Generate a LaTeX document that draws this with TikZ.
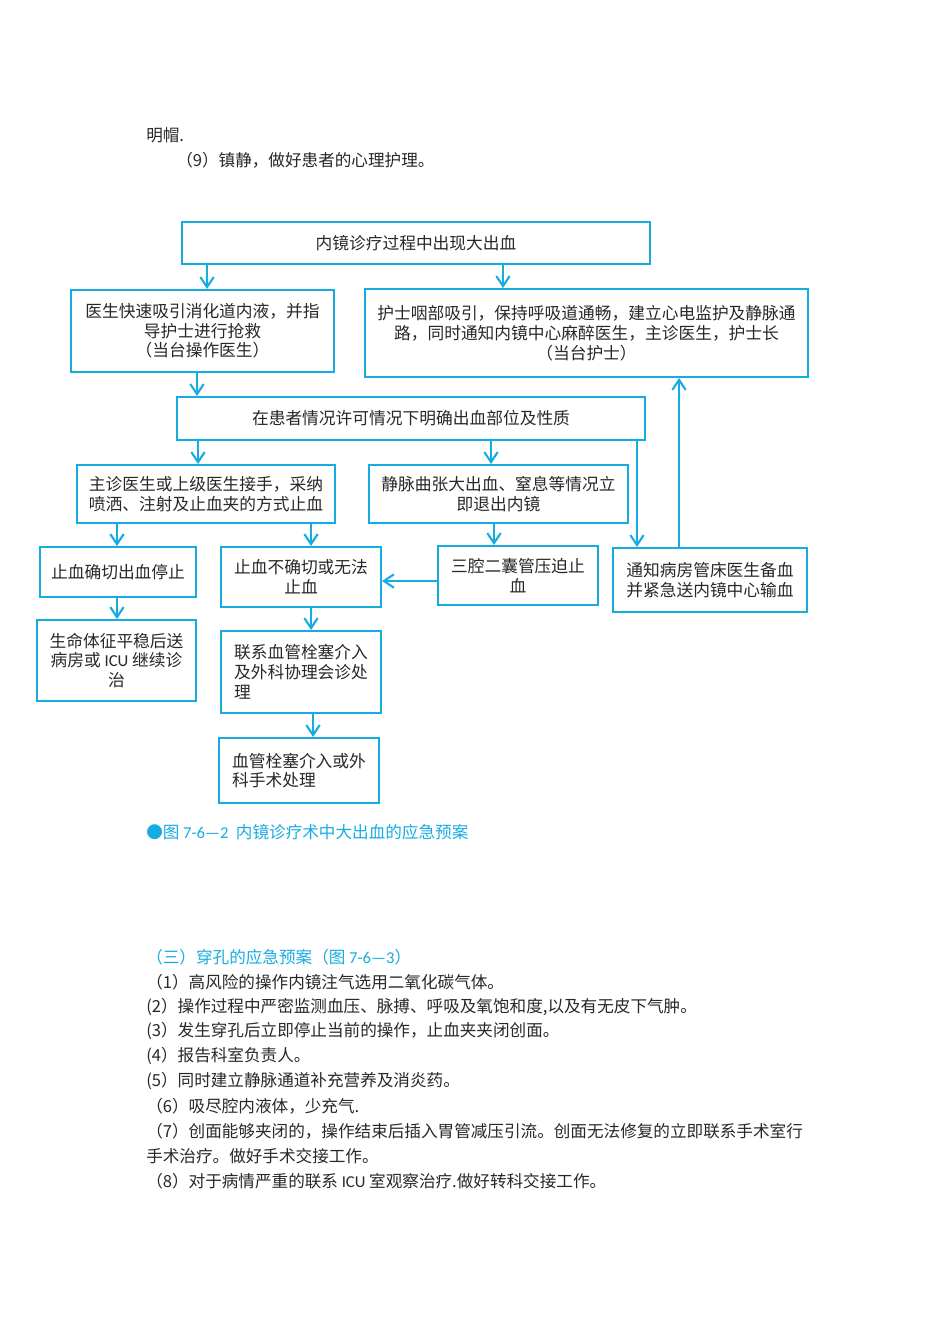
\documentclass[tikz,border=0pt]{standalone}
\usepackage{fontspec}
\setmainfont{Noto Sans CJK SC}
\newfontfamily\latin{Carlito}
\usepackage{xcolor}
\usetikzlibrary{positioning, arrows.meta, calc}

\definecolor{flowblue}{RGB}{22,172,226}
\definecolor{inkgray}{RGB}{40,40,40}
\newcommand{\flowfont}{\fontsize{12.55pt}{14.8pt}\selectfont}
\newcommand{\bodyfont}{\fontsize{12.45pt}{18pt}\selectfont}

\begin{document}
\begin{tikzpicture}[
  x=0.75pt, y=-0.75pt,
  every node/.style={font=\bodyfont, text=inkgray},
  arr/.style={-{Straight Barb[length=7.5pt, width=10pt, line width=1.6pt]}, line width=1pt, flowblue},
  box/.style={draw=flowblue, line width=1.5pt, align=center, inner sep=3pt,
              font=\flowfont, text=inkgray},
  para/.style={anchor=west, inner sep=0pt, font=\bodyfont},
  headline/.style={para, text=flowblue}
]
\useasboundingbox[fill=white] (0,0) rectangle (950,1344);

%% Text above the chart
\node[para] (capend) at (146,135) {明帽.};
\node[para] (step9) at (176,160) {（9）镇静，做好患者的心理护理。};

%% 1. Bleeding occurs
\node[box, minimum width=351pt, minimum height=31.5pt] (onset)
  at (416,243) {内镜诊疗过程中出现大出血};

%% 2a. Operating doctor
\node[box, minimum width=197.25pt, minimum height=61.5pt] (doctor)
  at (202.5,331) {医生快速吸引消化道内液，并指\\导护士进行抢救\\（当台操作医生）};

%% 2b. Nurse on duty
\node[box, minimum width=332.25pt, minimum height=66pt] (nurse)
  at (586.5,333) {护士咽部吸引，保持呼吸道通畅，建立心电监护及静脉通\\路，同时通知内镜中心麻醉医生，主诊医生，护士长\\（当台护士）};

%% 3. Locate the bleeding
\node[box, minimum width=351pt, minimum height=32.25pt] (locate)
  at (411,418.5) {在患者情况许可情况下明确出血部位及性质};

%% 4a. Chief doctor takes over
\node[box, minimum width=193.5pt, minimum height=43.5pt] (chief)
  at (206,494) {主诊医生或上级医生接手，采纳\\喷洒、注射及止血夹的方式止血};

%% 4b. Varices / asphyxia
\node[box, minimum width=194.25pt, minimum height=43.5pt] (varix)
  at (498.5,494) {静脉曲张大出血、窒息等情况立\\即退出内镜};

%% 5. Outcomes
\node[box, minimum width=117pt, minimum height=37.5pt] (stopped)
  at (118,572) {止血确切出血停止};
\node[box, minimum width=120pt, minimum height=45pt] (failed)
  at (301,577) {止血不确切或无法\\止血};
\node[box, minimum width=120pt, minimum height=44.25pt] (balloon)
  at (518,575.5) {三腔二囊管压迫止\\血};
\node[box, minimum width=145.5pt, minimum height=48pt] (blood)
  at (710,580) {通知病房管床医生备血\\并紧急送内镜中心输血};

%% 6. Follow-up
\node[box, minimum width=119.25pt, minimum height=60.75pt] (ward)
  at (116.5,660.5) {生命体征平稳后送\\病房或 {\latin ICU} 继续诊\\治};
\node[box, align=left, minimum width=120pt, minimum height=61.5pt] (consult)
  at (301,672) {联系血管栓塞介入\\及外科协理会诊处\\理};
\node[box, align=left, minimum width=120pt, minimum height=48.75pt] (surgery)
  at (299,770.5) {血管栓塞介入或外\\科手术处理};

%% Caption
\node[headline] (caption) at (146,832) {●图 {\latin 7-6—2}\ \ 内镜诊疗术中大出血的应急预案};

%% ---- Arrows ----
\draw[arr] (onset.south -| 207,0) -- (doctor.north -| 207,0);
\draw[arr] (onset.south -| 503,0) -- (nurse.north -| 503,0);
\draw[arr] (doctor.south -| 197,0) -- (locate.north -| 197,0);
\draw[arr] (locate.south -| 198,0) -- (chief.north -| 198,0);
\draw[arr] (locate.south -| 491,0) -- (varix.north -| 491,0);
\draw[arr] (locate.south -| 637,0) -- (blood.north -| 637,0);
\draw[arr] (blood.north -| 679,0) -- (nurse.south -| 679,0);
\draw[arr] (chief.south -| 117,0) -- (stopped.north -| 117,0);
\draw[arr] (chief.south -| 311,0) -- (failed.north -| 311,0);
\draw[arr] (varix.south -| 494,0) -- (balloon.north -| 494,0);
\draw[arr] (balloon.west |- 0,581) -- (failed.east |- 0,581);
\draw[arr] (stopped.south -| 117,0) -- (ward.north -| 117,0);
\draw[arr] (failed.south -| 311,0) -- (consult.north -| 311,0);
\draw[arr] (consult.south -| 313,0) -- (surgery.north -| 313,0);

%% Text below the chart
\node[headline] (perf) at (146,957) {（三）穿孔的应急预案（图 {\latin 7-6—3}）};
\node[para] (p1) at (146,982) {（1）高风险的操作内镜注气选用二氧化碳气体。};
\node[para] (p2) at (146,1007) {(2）操作过程中严密监测血压、脉搏、呼吸及氧饱和度,以及有无皮下气肿。};
\node[para] (p3) at (146,1031) {(3）发生穿孔后立即停止当前的操作，止血夹夹闭创面。};
\node[para] (p4) at (146,1056) {(4）报告科室负责人。};
\node[para] (p5) at (146,1081) {(5）同时建立静脉通道补充营养及消炎药。};
\node[para] (p6) at (146,1106) {（6）吸尽腔内液体，少充气.};
\node[para] (p7) at (146,1131) {（7）创面能够夹闭的，操作结束后插入胃管减压引流。创面无法修复的立即联系手术室行};
\node[para] (p7b) at (146,1156) {手术治疗。做好手术交接工作。};
\node[para] (p8) at (146,1181) {（8）对于病情严重的联系 {\latin ICU} 室观察治疗.做好转科交接工作。};

\end{tikzpicture}
\end{document}
